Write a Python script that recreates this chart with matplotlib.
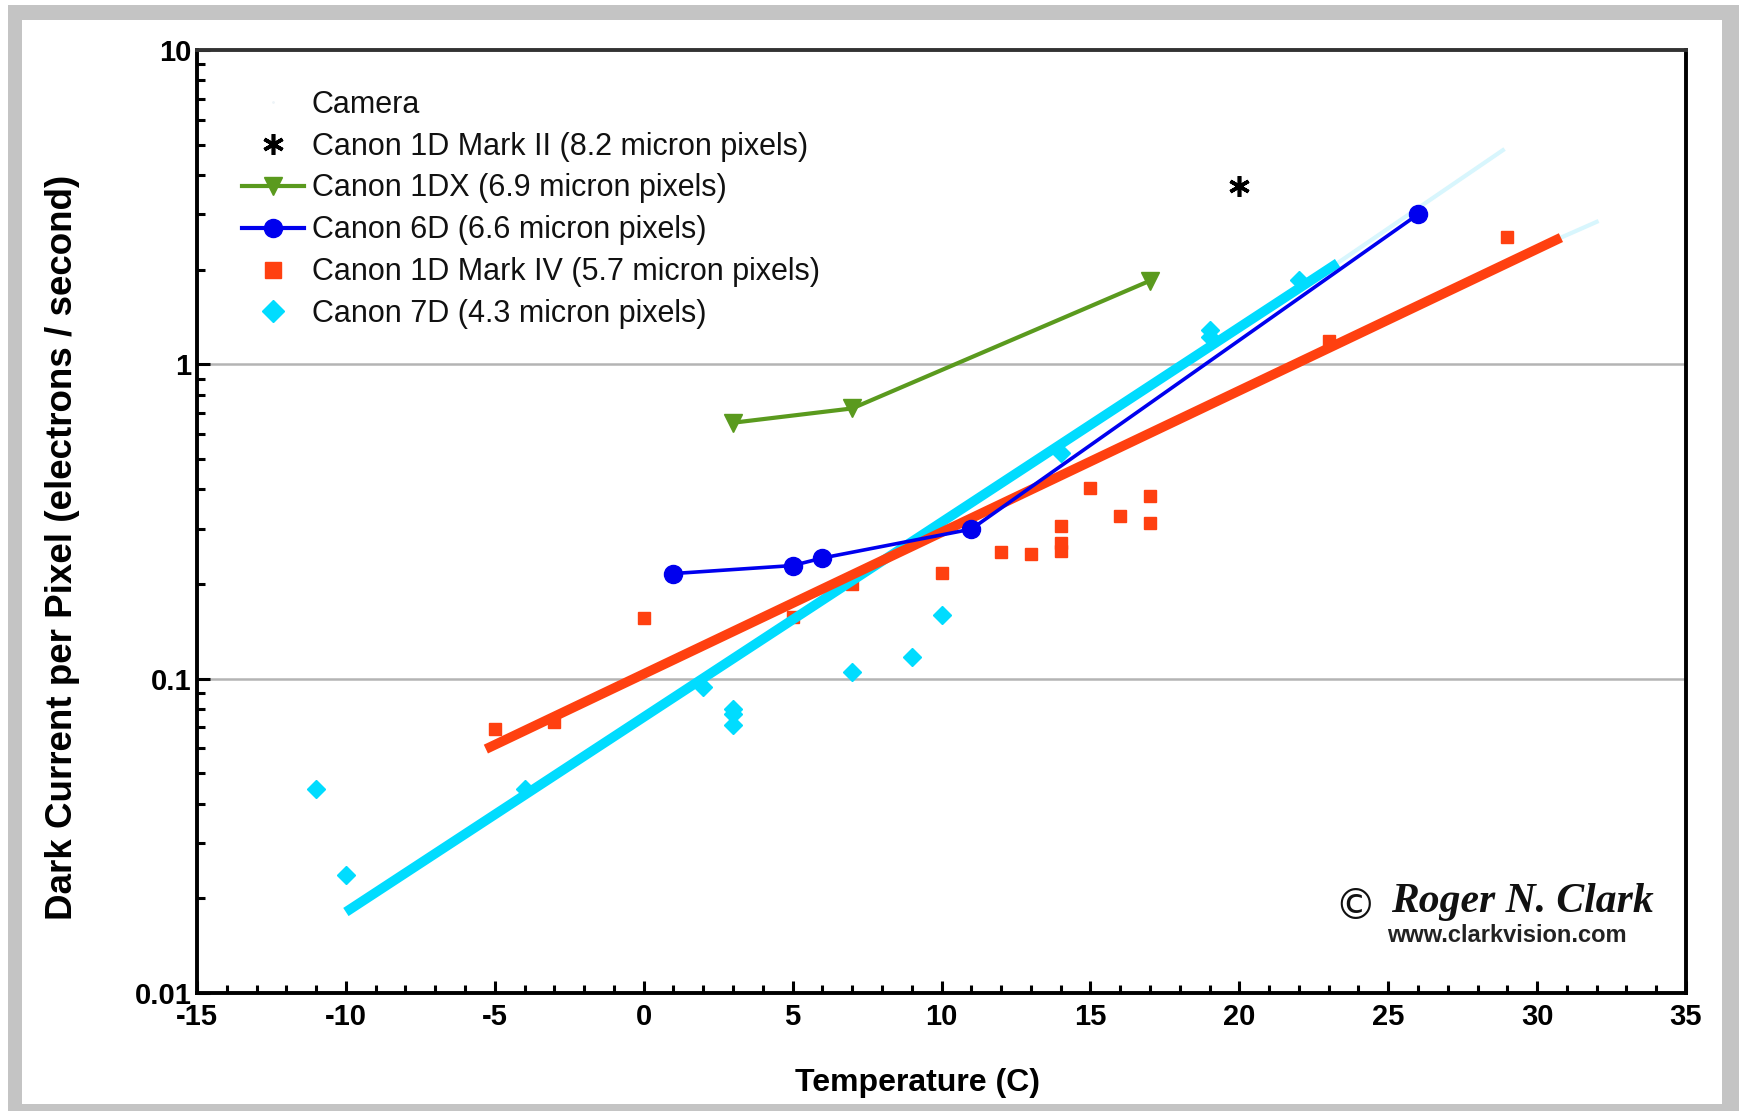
import matplotlib
matplotlib.use('Agg')
import matplotlib.pyplot as plt
from matplotlib.lines import Line2D
from matplotlib.patches import Rectangle

plt.rcParams['axes.unicode_minus'] = False

# data (temperature C, dark current e-/pixel/s)
mk2_t = [20]
mk2_dc = [3.7]

dx_t = [3, 7, 17]
dx_dc = [0.652, 0.724, 1.845]

d6_t = [1, 5, 6, 11, 26]
d6_dc = [0.216, 0.229, 0.242, 0.299, 3.0]

mk4_t = [-5, -3, 0, 5, 7, 10, 12, 13, 14, 14, 14, 15, 16, 17, 17, 23, 29]
mk4_dc = [0.069, 0.073, 0.156, 0.157, 0.200, 0.217, 0.253, 0.250,
          0.305, 0.270, 0.255, 0.404, 0.330, 0.380, 0.313, 1.19, 2.55]

d7_t = [-11, -10, -4, 2, 3, 3, 3, 7, 9, 10, 14, 19, 19, 22]
d7_dc = [0.0446, 0.0238, 0.0446, 0.094, 0.080, 0.077, 0.071,
         0.105, 0.117, 0.160, 0.522, 1.29, 1.22, 1.85]

# trend lines (end points as drawn)
mk4_fit_t = [-5.3, 30.8]
mk4_fit_dc = [0.0597, 2.53]
d7_fit_t = [-10.0, 23.3]
d7_fit_dc = [0.0181, 2.10]

# faint leftover line ends
ghost1_t = [23.3, 28.85]
ghost1_dc = [2.10, 4.8]
ghost2_t = [30.8, 32.0]
ghost2_dc = [2.53, 2.84]

labels = ['Camera',
          'Canon 1D Mark II (8.2 micron pixels)',
          'Canon 1DX (6.9 micron pixels)',
          'Canon 6D (6.6 micron pixels)',
          'Canon 1D Mark IV (5.7 micron pixels)',
          'Canon 7D (4.3 micron pixels)']

c_green = '#5a9a1e'
c_blue = '#0000ee'
c_orange = '#ff4010'
c_cyan = '#00dcff'

sans = 'Liberation Sans'

fig = plt.figure(figsize=(17.39, 11.11), dpi=100)
W, H = 1739, 1111
fig.patches.append(Rectangle((8 / W, 0), 1, 1 - 5 / H, transform=fig.transFigure,
                             facecolor='#c4c4c4', edgecolor='none', zorder=-10))
fig.patches.append(Rectangle((22 / W, 7 / H), 1700 / W, 1 - 7 / H - 20 / H,
                             transform=fig.transFigure, facecolor='white',
                             edgecolor='none', zorder=-9))

ax = fig.add_axes([197 / W, 1 - 993 / H, (1686 - 197) / W, (993 - 50) / H])
ax.set_facecolor('white')
ax.set_yscale('log')
ax.set_xlim(-15, 35)
ax.set_ylim(0.01, 10)

for y in [0.1, 1]:
    ax.axhline(y, color='#b4b4b4', lw=1.8, zorder=1)

ax.plot(ghost1_t, ghost1_dc, color='#d8f6fd', lw=3, zorder=2)
ax.plot(ghost2_t, ghost2_dc, color='#d8f6fd', lw=3, zorder=2)

ax.plot(mk4_t, mk4_dc, linestyle='none', marker='s', color=c_orange,
        markersize=8.5, zorder=3)
ax.plot(d7_t, d7_dc, linestyle='none', marker='D', color=c_cyan,
        markersize=9, zorder=3)
ax.plot(mk4_fit_t, mk4_fit_dc, color=c_orange, lw=7, solid_capstyle='butt', zorder=5)
ax.plot(d7_fit_t, d7_fit_dc, color=c_cyan, lw=7, solid_capstyle='butt', zorder=4)
ax.plot(d6_t, d6_dc, color=c_blue, lw=2.6, marker='o', markersize=13, zorder=6)
ax.plot(dx_t, dx_dc, color=c_green, lw=3, marker='v', markersize=12.5, zorder=6)
ax.plot(mk2_t, mk2_dc, linestyle='none', marker=(6, 2, 0), color='black',
        markersize=15, markeredgewidth=2.6, zorder=6)

handles = [
    Line2D([], [], linestyle='none', marker='.', color='#eef4f8', markersize=2),
    Line2D([], [], linestyle='none', marker=(6, 2, 0), color='black',
           markersize=15, markeredgewidth=2.6),
    Line2D([], [], color=c_green, lw=3, marker='v', markersize=12.5),
    Line2D([], [], color=c_blue, lw=3, marker='o', markersize=13),
    Line2D([], [], linestyle='none', marker='s', color=c_orange, markersize=12),
    Line2D([], [], linestyle='none', marker='D', color=c_cyan, markersize=11),
]
leg = ax.legend(handles, labels, loc='upper left', frameon=False,
                bbox_to_anchor=(0.030, 0.958), borderpad=0, borderaxespad=0,
                handlelength=2.05, handletextpad=0.25, labelspacing=0.39,
                prop={'family': sans, 'size': 22})
for t in leg.get_texts():
    t.set_color('#111111')

# axes frame and ticks
for s in ax.spines.values():
    s.set_linewidth(2.8)
    s.set_color('black')
ax.spines['top'].set_color('#333333')

ax.set_xticks(range(-15, 36, 5))
ax.set_xticks(range(-15, 36, 1), minor=True)
ax.set_yticks([0.01, 0.1, 1, 10], ['0.01', '0.1', '1', '10'])
ax.yaxis.set_minor_locator(matplotlib.ticker.LogLocator(subs=range(2, 10)))
ax.yaxis.set_minor_formatter(matplotlib.ticker.NullFormatter())
ax.tick_params(which='both', direction='in', top=False, right=False,
               width=2.2, color='black')
ax.tick_params(which='major', length=9)
ax.tick_params(which='minor', length=6)
ax.tick_params(axis='x', which='major', pad=7)
ax.tick_params(axis='y', which='major', pad=4)
for lab in ax.get_xticklabels() + ax.get_yticklabels():
    lab.set_family(sans)
    lab.set_fontweight('bold')
    lab.set_fontsize(21)

ax.set_xlabel('Temperature (C)', family=sans, fontweight='bold',
              fontsize=23, va='center')
ax.set_ylabel('Dark Current per Pixel (electrons / second)',
              family=sans, fontweight='bold', fontsize=26.5, va='center')
ax.xaxis.set_label_coords(0.484, -0.095)
ax.yaxis.set_label_coords(-0.090, 0.473)

# watermark
ax.text(0.778, 0.091, '\u00a9', transform=ax.transAxes, fontsize=30,
        family='DejaVu Sans', ha='center', va='center', color='#111111')
ax.text(0.890, 0.097, 'Roger N. Clark', transform=ax.transAxes, fontsize=30,
        family='Liberation Serif', style='italic', fontweight='bold',
        ha='center', va='center', color='#111111')
ax.text(0.880, 0.061, 'www.clarkvision.com', transform=ax.transAxes,
        fontsize=17, family=sans, fontweight='bold',
        ha='center', va='center', color='#222222')

fig.savefig('out.png', dpi=100)
